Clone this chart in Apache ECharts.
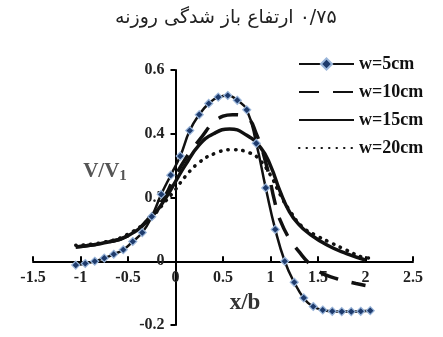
<!doctype html>
<html>
<head>
    <meta charset="utf-8">
    <title>ECharts Sample</title>
    <script src="https://cdn.jsdelivr.net/npm/echarts@6/dist/echarts.min.js"></script>
</head>
<style>
    html, body { margin: 0; padding: 0; background: #fff; }
    #EChartParent { width: 443px; height: 337px; }
</style>
<body>
<div id="EChartParent"></div>
<script>
  // values
  var titleText = '\u202B۰/۷۵ ارتفاع باز شدگی روزنه\u202C';
  var seriesNames = ['w=5cm', 'w=10cm', 'w=15cm', 'w=20cm'];

  var x5 = [-1.05, -0.95, -0.85, -0.75, -0.65, -0.55, -0.45, -0.35, -0.25, -0.15, -0.05, 0.05, 0.15, 0.25, 0.35, 0.45, 0.55, 0.65, 0.75, 0.85, 0.95, 1.05, 1.15, 1.25, 1.35, 1.45, 1.55, 1.65, 1.75, 1.85, 1.95, 2.05];
  var y5 = [-0.012, -0.007, 0.0, 0.01, 0.022, 0.036, 0.062, 0.09, 0.14, 0.21, 0.27, 0.33, 0.41, 0.46, 0.495, 0.515, 0.52, 0.505, 0.475, 0.37, 0.23, 0.1, 0.0, -0.066, -0.115, -0.142, -0.153, -0.157, -0.158, -0.158, -0.157, -0.155];

  var x10 = [-1.05, -0.9, -0.75, -0.5, -0.25, -0.1, 0, 0.25, 0.5, 0.6, 0.75, 0.85, 0.95, 1.05, 1.1, 1.2, 1.3, 1.4, 1.5, 1.6, 1.7, 1.8, 1.9, 2.0];
  var y10 = [0.045, 0.05, 0.058, 0.08, 0.145, 0.21, 0.27, 0.38, 0.455, 0.46, 0.45, 0.4, 0.31, 0.18, 0.13, 0.07, 0.03, -0.005, -0.03, -0.045, -0.055, -0.063, -0.07, -0.076];

  var x15 = [-1.05, -0.9, -0.75, -0.5, -0.25, -0.1, 0, 0.1, 0.25, 0.4, 0.57, 0.75, 0.9, 1.0, 1.1, 1.2, 1.3, 1.4, 1.6, 1.8, 2.0];
  var y15 = [0.045, 0.05, 0.058, 0.08, 0.14, 0.2, 0.25, 0.3, 0.365, 0.4, 0.415, 0.395, 0.355, 0.3, 0.22, 0.155, 0.115, 0.088, 0.05, 0.024, 0.004];

  var x20 = [-1.05, -0.75, -0.5, -0.25, -0.1, 0, 0.1, 0.25, 0.43, 0.6, 0.78, 0.88, 1.0, 1.1, 1.2, 1.34, 1.5, 1.65, 1.8, 1.97, 2.05];
  var y20 = [0.05, 0.06, 0.085, 0.14, 0.19, 0.225, 0.265, 0.31, 0.34, 0.35, 0.34, 0.32, 0.27, 0.21, 0.16, 0.107, 0.078, 0.056, 0.035, 0.013, 0.01];

  function pairs(xs, ys) {
    var out = [];
    for (var i = 0; i < xs.length; i++) out.push([xs[i], ys[i]]);
    return out;
  }

  var serif = '"Liberation Serif", "DejaVu Serif", serif';

  // plot box and axis ranges
  var W = 443, H = 337;
  var gLeft = 33, gRight = 30, gTop = 70, gBottom = 12;
  var xMin = -1.5, xMax = 2.5, yMin = -0.2, yMax = 0.6;
  var gW = W - gLeft - gRight, gH = H - gTop - gBottom;
  // axes cross at zero: shift them in from the grid edges
  var xAxisOffset = -gH * (0 - yMin) / (yMax - yMin);
  var yAxisOffset = -gW * (0 - xMin) / (xMax - xMin);

  var chart = document.getElementById('EChartParent');
  var myChart = echarts.init(chart);

  var plain = { itemStyle: { opacity: 0 } };

  var option = {
    animation: false,
    title: {
      text: titleText,
      left: 110,
      top: 4,
      textStyle: { fontFamily: '"DejaVu Sans", sans-serif', fontSize: 19, fontWeight: 'normal', color: '#222' }
    },
    legend: {
      orient: 'vertical',
      left: 293,
      top: 50,
      itemWidth: 55,
      itemHeight: 14,
      itemGap: 10,
      data: [
        { name: seriesNames[0] },
        Object.assign({ name: seriesNames[1] }, plain),
        Object.assign({ name: seriesNames[2] }, plain),
        Object.assign({ name: seriesNames[3] }, plain)
      ],
      textStyle: { fontFamily: serif, fontSize: 18, fontWeight: 'bold', color: '#111' }
    },
    grid: { left: gLeft, right: gRight, top: gTop, bottom: gBottom, outerBoundsMode: 'none' },
    xAxis: {
      type: 'value',
      min: xMin,
      max: xMax,
      interval: 0.5,
      position: 'bottom',
      offset: xAxisOffset,
      splitLine: { show: false },
      axisLine: { onZero: false, lineStyle: { color: '#000', width: 2 } },
      axisTick: { inside: true, length: 5, lineStyle: { color: '#000', width: 2 } },
      axisLabel: { margin: 9, fontFamily: serif, fontSize: 16, fontWeight: 'bold', color: '#222' }
    },
    yAxis: {
      type: 'value',
      min: yMin,
      max: yMax,
      interval: 0.2,
      position: 'left',
      offset: yAxisOffset,
      splitLine: { show: false },
      axisLine: { onZero: false, lineStyle: { color: '#000', width: 2 } },
      axisTick: { length: 5, lineStyle: { color: '#000', width: 2 } },
      axisLabel: { margin: 11, fontFamily: serif, fontSize: 16, fontWeight: 'bold', color: '#222' }
    },
    graphic: [
      {
        type: 'text', x: 245, y: 303,
        style: { text: 'x/b', align: 'center', verticalAlign: 'middle', fontFamily: serif, fontSize: 23, fontWeight: 'bold', fill: '#333' }
      },
      {
        type: 'text', x: 105, y: 172,
        style: {
          text: '{a|V/V}{b|1}', align: 'center', verticalAlign: 'middle',
          rich: {
            a: { fontFamily: serif, fontSize: 21, fontWeight: 'bold', fill: '#555' },
            b: { fontFamily: serif, fontSize: 15, fontWeight: 'bold', fill: '#555', padding: [8, 0, 0, 0] }
          }
        }
      }
    ],
    series: [
      {
        name: seriesNames[1], type: 'line', smooth: true, symbol: 'none',
        lineStyle: { color: '#111', width: 3.5, type: [20, 14] },
        itemStyle: { color: '#111' },
        data: pairs(x10, y10)
      },
      {
        name: seriesNames[2], type: 'line', smooth: true, symbol: 'none',
        lineStyle: { color: '#111', width: 3.5 },
        itemStyle: { color: '#111' },
        data: pairs(x15, y15)
      },
      {
        name: seriesNames[3], type: 'line', smooth: true, symbol: 'none',
        lineStyle: { color: '#111', width: 3.5, type: [0.5, 7], cap: 'round' },
        itemStyle: { color: '#111' },
        data: pairs(x20, y20)
      },
      {
        name: seriesNames[0], type: 'line', smooth: true, z: 5,
        symbol: 'diamond', symbolSize: 8,
        lineStyle: { color: '#111', width: 2.5 },
        itemStyle: { color: '#1d3a6c', borderColor: '#9bb6da', borderWidth: 1.2 },
        data: pairs(x5, y5)
      }
    ]
  };

  myChart.setOption(option);
</script>
</body>
</html>
